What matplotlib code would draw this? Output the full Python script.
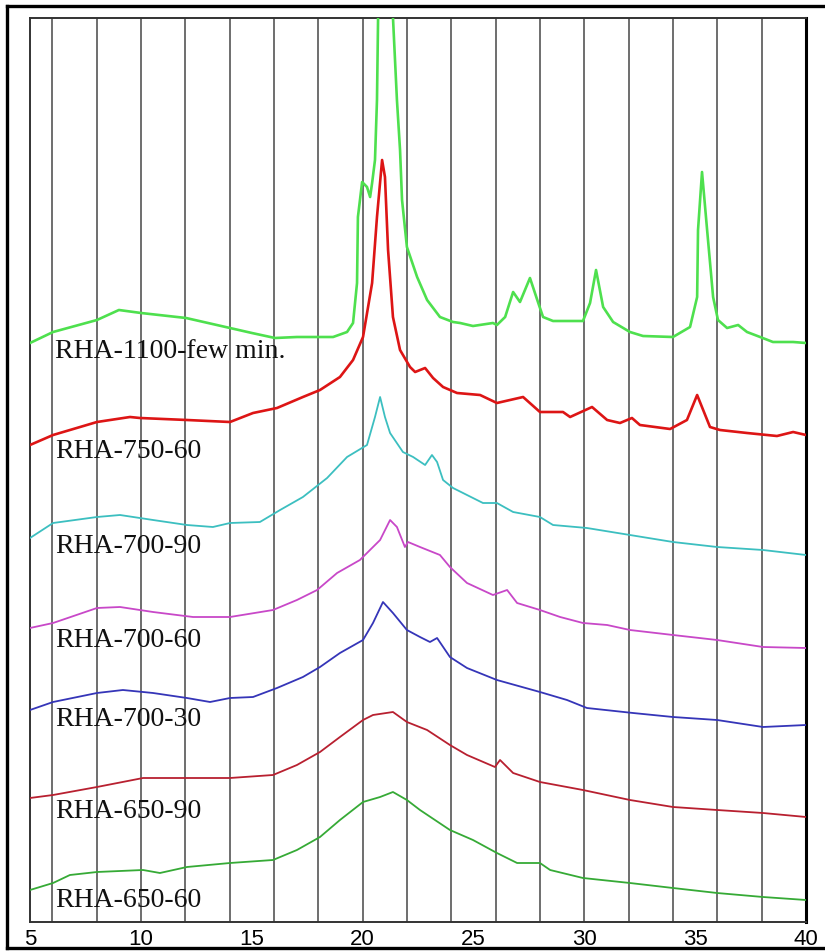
#/////////////////////////////////#
#////////////Libraries////////////#
#/////////////////////////////////#
import numpy as np
import matplotlib
matplotlib.use('Agg')
import matplotlib.pyplot as plt
from matplotlib.lines import Line2D

#/////////////////////////////////#
#//////////////Data///////////////#
#/////////////////////////////////#
# 2-theta (deg) and stacked intensity (arb. units, already offset)
tth_1100 = [5.00, 6.04, 8.02, 9.01, 10.01, 12.04, 14.02, 15.01, 16.05, 17.04, 18.04, 18.67,
            19.30, 19.57, 19.75, 19.79, 19.98, 20.20, 20.34, 20.43, 20.56, 20.65, 20.70, 21.01,
            21.37, 21.55, 21.69, 21.78, 22.00, 22.46, 22.91, 23.49, 24.08, 24.40, 24.98, 25.88,
            26.06, 26.43, 26.79, 27.10, 27.55, 27.91, 28.14, 28.59, 29.94, 30.26, 30.53, 30.85,
            31.30, 32.06, 32.65, 34.00, 34.77, 35.09, 35.13, 35.31, 35.54, 35.81, 36.03, 36.44,
            36.94, 37.34, 37.93, 38.51, 39.42, 40.00]
int_1100 = [579, 590, 602, 612, 609, 604, 594, 589, 584, 585, 585, 585,
            590, 599, 639, 705, 740, 735, 725, 739, 762, 822, 905, 1000,
            905, 822, 772, 722, 675, 645, 622, 605, 600, 599, 596, 599,
            597, 605, 630, 620, 644, 620, 605, 601, 601, 619, 652, 615,
            600, 590, 586, 585, 595, 625, 692, 750, 692, 625, 602, 594,
            597, 590, 585, 580, 580, 579]

tth_750_60 = [5.00, 6.04, 8.02, 9.51, 9.96, 12.08, 14.02, 15.06, 16.14, 17.31, 18.08, 18.98,
              19.57, 20.02, 20.43, 20.65, 20.88, 21.01, 21.15, 21.37, 21.69, 22.14, 22.37, 22.82,
              23.18, 23.63, 24.26, 25.30, 26.06, 27.24, 28.00, 29.04, 29.36, 30.35, 31.03, 31.61,
              32.15, 32.51, 33.87, 34.63, 35.09, 35.67, 36.12, 37.34, 38.69, 39.42, 40.00]
int_750_60 = [477, 487, 500, 505, 504, 502, 500, 509, 514, 525, 532, 545,
              562, 585, 639, 705, 762, 745, 672, 605, 572, 555, 550, 554,
              544, 535, 529, 527, 519, 525, 510, 510, 505, 515, 502, 499,
              504, 497, 493, 502, 527, 495, 492, 489, 486, 490, 487]

tth_700_90 = [5.00, 6.04, 8.02, 9.06, 10.55, 12.08, 13.25, 14.02, 15.37, 16.28, 17.31, 18.40,
              19.30, 20.20, 20.56, 20.79, 21.01, 21.24, 21.82, 22.28, 22.82, 23.13, 23.36, 23.63,
              24.08, 25.43, 26.06, 26.79, 28.00, 28.59, 30.12, 32.06, 34.00, 35.99, 38.06, 40.00]
int_700_90 = [384, 399, 405, 407, 402, 397, 395, 399, 400, 412, 425, 444,
              465, 477, 505, 525, 505, 489, 470, 465, 457, 467, 460, 442,
              434, 419, 419, 410, 405, 397, 394, 387, 380, 375, 372, 367]

tth_700_60 = [5.00, 6.04, 8.02, 9.06, 10.55, 12.35, 14.02, 15.96, 17.04, 17.95, 18.85, 19.88,
              20.79, 21.24, 21.55, 21.91, 22.05, 22.59, 23.49, 23.94, 24.71, 25.88, 26.52, 26.97,
              28.00, 28.91, 29.94, 31.03, 32.06, 34.00, 35.99, 38.06, 40.00]
int_700_60 = [294, 299, 314, 315, 310, 305, 305, 312, 322, 332, 349, 362,
              382, 402, 395, 375, 380, 375, 367, 355, 339, 327, 332, 319,
              312, 305, 299, 297, 292, 287, 282, 275, 274]

tth_700_30 = [5.00, 6.04, 8.02, 9.19, 10.55, 12.08, 13.12, 14.02, 15.06, 16.14, 17.31, 18.08,
              18.98, 20.02, 20.47, 20.92, 21.37, 22.00, 22.59, 23.04, 23.36, 23.94, 24.71, 26.06,
              28.00, 29.22, 30.12, 32.20, 34.00, 35.99, 38.06, 40.00]
int_700_30 = [212, 220, 229, 232, 229, 224, 220, 224, 225, 234, 245, 255,
              269, 282, 299, 320, 309, 292, 285, 280, 284, 265, 254, 242,
              230, 222, 214, 209, 205, 202, 195, 197]

tth_650_90 = [5.00, 6.04, 8.02, 10.10, 12.08, 14.02, 15.96, 17.04, 18.08, 18.98, 20.02, 20.47,
              21.37, 22.00, 22.91, 23.94, 24.71, 25.97, 26.20, 26.79, 28.00, 29.94, 32.06, 34.00,
              35.99, 38.06, 40.00]
int_650_90 = [124, 127, 135, 144, 144, 144, 147, 157, 170, 185, 202, 207,
              210, 200, 192, 177, 167, 155, 162, 149, 140, 132, 122, 115,
              112, 109, 105]

tth_650_60 = [5.00, 6.04, 6.80, 8.02, 10.10, 10.86, 12.08, 14.02, 15.96, 17.04, 18.08, 18.98,
              20.02, 20.79, 21.37, 22.00, 22.59, 23.94, 24.98, 26.06, 26.97, 28.00, 28.46, 29.94,
              32.06, 34.00, 35.99, 38.06, 40.00]
int_650_60 = [32, 39, 47, 50, 52, 49, 55, 59, 62, 72, 85, 102,
              120, 125, 130, 122, 112, 92, 82, 69, 59, 59, 52, 44,
              39, 34, 29, 25, 22]

labels = ['RHA-1100-few min.', 'RHA-750-60', 'RHA-700-90', 'RHA-700-60',
          'RHA-700-30', 'RHA-650-90', 'RHA-650-60']
label_y = [564, 464, 369, 275, 196, 104, 15]       # baseline of each label
colors = ['#4ee04e', '#dd1515', '#3cbfc0', '#c848c8', '#3535b8', '#b82030', '#36aa36']
widths = [1.9, 1.9, 1.3, 1.3, 1.3, 1.3, 1.3]

series = [(tth_1100, int_1100), (tth_750_60, int_750_60), (tth_700_90, int_700_90),
          (tth_700_60, int_700_60), (tth_700_30, int_700_30), (tth_650_90, int_650_90),
          (tth_650_60, int_650_60)]

#/////////////////////////////////#
#//////////////Plot///////////////#
#/////////////////////////////////#
fig = plt.figure(figsize=(8.25, 9.51), dpi=100)
ax = fig.add_axes([30/825, 29/951, 776/825, 904/951])

for (t, y), c, lw in zip(series, colors, widths):
    ax.plot(t, y, color=c, lw=lw, zorder=3)

for lab, yl in zip(labels, label_y):
    ax.text(6.13, yl, lab, fontsize=20, family='Liberation Serif',
            color='#111111', va='baseline', ha='left', zorder=4)

# vertical grid every 2 deg, labels every 5 deg
for g in np.arange(6, 40, 2):
    ax.axvline(g, color='#555555', lw=1.2, zorder=1)

ax.set_xlim(5, 40)
ax.set_ylim(0, 904)
ax.set_xticks(np.arange(5, 41, 5))
ax.set_xticklabels([str(v) for v in range(5, 41, 5)], fontsize=16, family='Liberation Sans')
ax.tick_params(axis='x', length=0, pad=5)
ax.set_yticks([])
for s in ['left', 'top', 'bottom']:
    ax.spines[s].set_linewidth(1.4)
    ax.spines[s].set_color('#333333')
ax.spines['right'].set_linewidth(2.2)
ax.spines['right'].set_color('black')

# outer picture frame
frame = dict(color='black', lw=2.4, transform=fig.transFigure, clip_on=False)
fig.add_artist(Line2D([6.5/825, 6.5/825], [3/951, 945/951], **frame))
fig.add_artist(Line2D([6.5/825, 1.0], [945/951, 945/951], **frame))
fig.add_artist(Line2D([6.5/825, 1.0], [3/951, 3/951], **frame))

fig.savefig('out.png', dpi=100)
